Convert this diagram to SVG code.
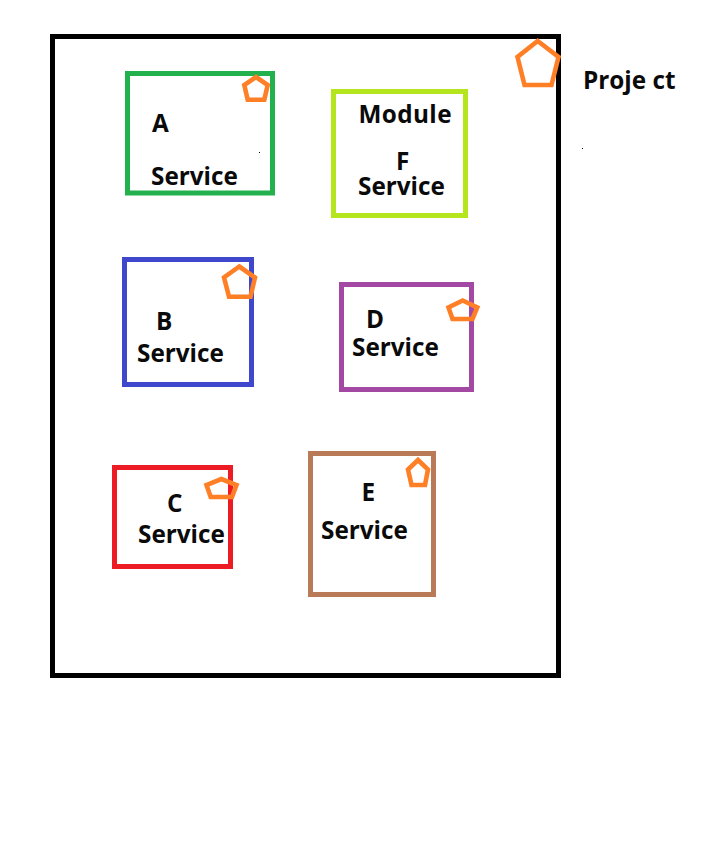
<svg xmlns="http://www.w3.org/2000/svg" width="728" height="868" viewBox="0 0 728 868">
<style>
.box{fill:none;stroke-width:5}
.pent{fill:none;stroke:#ff7f27;stroke-width:4.6}
text{font-family:"Open Sans","Noto Sans","Liberation Sans",sans-serif;font-weight:700;font-size:24.3px;fill:#0a0a0a}
</style>
<rect width="728" height="868" fill="#fff"/>
<g id="project">
<rect class="box" x="52.5" y="36.5" width="506" height="639" stroke="#000"/>
<polygon class="pent" points="537.7,41 558.5,57 551.5,85 524.5,85 517.5,57"/>
<text x="583" y="89">Proje ct</text>
</g>
<g id="service-a">
<rect class="box" x="127.5" y="73.5" width="145" height="119.500" stroke="#22b14c"/>
<polygon class="pent" points="256,77 267.7,85 264.3,99.7 247.7,99.7 244.3,85"/>
<text x="152" y="132">A</text>
<text x="151" y="184.500">Service</text>
</g>
<g id="service-f">
<rect class="box" x="333.500" y="91.500" width="132" height="124" stroke="#b5e61d"/>
<text x="358.500" y="123" textLength="93">Module</text>
<text x="396" y="170">F</text>
<text x="358" y="194.500">Service</text>
</g>
<g id="service-b">
<rect class="box" x="124.500" y="259.500" width="127" height="125" stroke="#3f48cc"/>
<polygon class="pent" points="239.3,266.500 255,277.500 250.500,296.7 229,296.7 224,277.500"/>
<text x="156" y="329.500">B</text>
<text x="137" y="362">Service</text>
</g>
<g id="service-d">
<rect class="box" x="341.500" y="284.500" width="130" height="105" stroke="#a349a4"/>
<polygon class="pent" points="462.7,300.500 477.3,307.500 472.500,319 452.500,319 448.500,307.500"/>
<text x="366" y="328">D</text>
<text x="352" y="356">Service</text>
</g>
<g id="service-c">
<rect class="box" x="114.500" y="467.500" width="116" height="99" stroke="#ed1c24"/>
<polygon class="pent" points="221.3,479 236.500,485 232,497 210.7,497 206.500,485"/>
<text x="167" y="512">C</text>
<text x="138" y="542.500">Service</text>
</g>
<g id="service-e">
<rect class="box" x="310.500" y="453.500" width="123" height="141" stroke="#b97a57"/>
<polygon class="pent" points="418,460 428,469.500 425,485 411.500,485 408,469.500"/>
<text x="361.500" y="501">E</text>
<text x="321" y="538.500">Service</text>
</g>
<g id="connectors"/>
<rect x="259" y="152" width="1" height="1" fill="#000"/>
<rect x="582" y="148" width="1" height="1" fill="#000"/>
</svg>
